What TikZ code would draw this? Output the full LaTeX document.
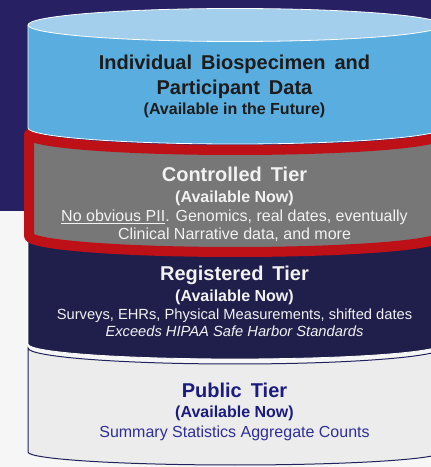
\documentclass[tikz,border=0pt]{standalone}
\usepackage{fontspec}
\setmainfont{Liberation Sans}
\definecolor{bgdark}{HTML}{272062}
\definecolor{bglight}{HTML}{F6F6F6}
\definecolor{topblue}{HTML}{A3CFEC}
\definecolor{bodyblue}{HTML}{5AADDF}
\definecolor{ctgray}{HTML}{777777}
\definecolor{ctred}{HTML}{BE1017}
\definecolor{regnavy}{HTML}{201F4C}
\definecolor{pubfill}{HTML}{ECECEC}
\definecolor{publine}{HTML}{22225E}
\definecolor{pubtitle}{HTML}{1B1B80}
\definecolor{pubtext}{HTML}{2E2E99}
\definecolor{darktext}{HTML}{1C1C1C}
\definecolor{lighttext}{HTML}{F2F2F2}
\newcommand\widespaces{\spaceskip=0.45em plus 0.1em\relax}
\begin{document}
\begin{tikzpicture}[x=1pt,y=1pt,
  txt/.style={anchor=base, inner sep=0pt},
  tiertitle/.style={txt, font=\fontsize{20}{24}\selectfont\bfseries, execute at begin node=\widespaces},
  tiersub/.style={txt, font=\fontsize{16}{19}\selectfont\bfseries},
  tierbody/.style={txt, font=\fontsize{16}{19}\selectfont},
  regbody/.style={txt, font=\fontsize{14.7}{18}\selectfont},
  edge/.style={draw=white, line width=0.8pt}]
\useasboundingbox (0,0) rectangle (431,467);
% backgrounds
\fill[bglight] (0,0) rectangle (431,256);
\fill[bgdark] (0,256) rectangle (431,467);
% public tier
\path[fill=pubfill, draw=publine, line width=1pt]
  (28,119) arc[start angle=180,end angle=360,x radius=207,y radius=16]
  -- (442,15) arc[start angle=0,end angle=-180,x radius=207,y radius=13] -- cycle;
% registered tier
\path[fill=regnavy, edge]
  (28,262) -- (28,123) arc[start angle=180,end angle=360,x radius=207,y radius=15]
  -- (442,262) -- cycle;
% controlled tier
\path[fill=ctgray, draw=ctred, line width=10pt, line join=round]
  (29,333) arc[start angle=180,end angle=360,x radius=206,y radius=16]
  -- (441,231) arc[start angle=0,end angle=-180,x radius=206,y radius=16] -- cycle;
% individual data cylinder
\path[fill=bodyblue, edge]
  (28,442) -- (28,339) arc[start angle=180,end angle=360,x radius=207,y radius=16]
  -- (442,442);
\path[fill=topblue, edge] (235,442) ellipse[x radius=207, y radius=16.5];
% texts
\node[tiertitle, text=darktext] (i1) at (234.5,397) {Individual Biospecimen and};
\node[tiertitle, text=darktext] (i2) at (234.5,372) {Participant Data};
\node[tiersub, text=darktext] (i3) at (234.5,352) {(Available in the Future)};
\node[tiertitle, text=lighttext] (c1) at (234.5,285) {Controlled Tier};
\node[tiersub, text=lighttext] (c2) at (234.5,264) {(Available Now)};
\node[tierbody, text=lighttext] (c3) at (234.5,245) {\underline{No obvious PII}. Genomics, real dates, eventually};
\node[tierbody, text=lighttext] (c4) at (234.5,227) {Clinical Narrative data, and more};
\node[tiertitle, text=lighttext] (r1) at (234.5,186) {Registered Tier};
\node[tiersub, text=lighttext] (r2) at (234.5,165) {(Available Now)};
\node[regbody, text=lighttext] (r3) at (234.5,147) {Surveys, EHRs, Physical Measurements, shifted dates};
\node[regbody, text=lighttext] (r4) at (234.5,130) {\itshape Exceeds HIPAA Safe Harbor Standards};
\node[tiertitle, text=pubtitle] (p1) at (234.5,70) {Public Tier};
\node[tiersub, text=pubtitle] (p2) at (234.5,49) {(Available Now)};
\node[tierbody, text=pubtext] (p3) at (234.5,30) {Summary Statistics Aggregate Counts};
\end{tikzpicture}
\end{document}
